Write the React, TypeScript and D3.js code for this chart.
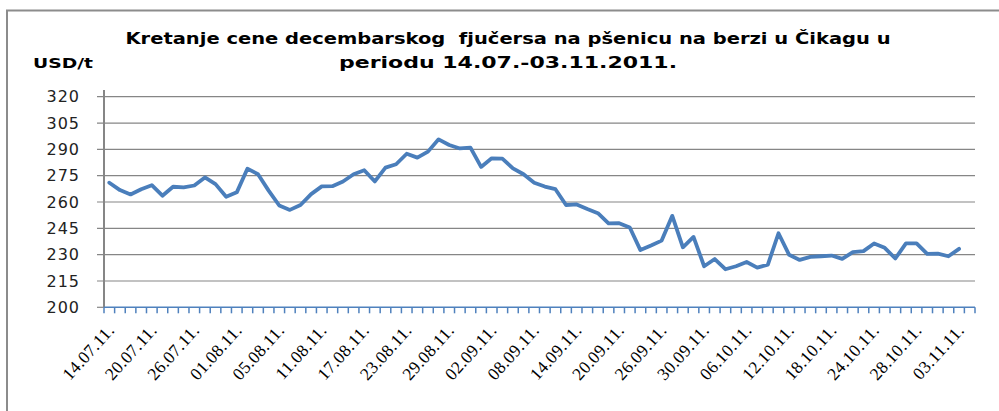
import { useEffect, useRef } from 'react';
import * as d3 from 'd3';

// Trading days 14.07.2011 - 04.11.2011 (category axis)
const dates = [
  "14.07.11.", "15.07.11.", "18.07.11.", "19.07.11.", "20.07.11.", "21.07.11.", "22.07.11.", "25.07.11.",
  "26.07.11.", "27.07.11.", "28.07.11.", "29.07.11.", "01.08.11.", "02.08.11.", "03.08.11.", "04.08.11.",
  "05.08.11.", "08.08.11.", "09.08.11.", "10.08.11.", "11.08.11.", "12.08.11.", "15.08.11.", "16.08.11.",
  "17.08.11.", "18.08.11.", "19.08.11.", "22.08.11.", "23.08.11.", "24.08.11.", "25.08.11.", "26.08.11.",
  "29.08.11.", "30.08.11.", "31.08.11.", "01.09.11.", "02.09.11.", "05.09.11.", "06.09.11.", "07.09.11.",
  "08.09.11.", "09.09.11.", "12.09.11.", "13.09.11.", "14.09.11.", "15.09.11.", "16.09.11.", "19.09.11.",
  "20.09.11.", "21.09.11.", "22.09.11.", "23.09.11.", "26.09.11.", "27.09.11.", "28.09.11.", "29.09.11.",
  "30.09.11.", "03.10.11.", "04.10.11.", "05.10.11.", "06.10.11.", "07.10.11.", "10.10.11.", "11.10.11.",
  "12.10.11.", "13.10.11.", "14.10.11.", "17.10.11.", "18.10.11.", "19.10.11.", "20.10.11.", "21.10.11.",
  "24.10.11.", "25.10.11.", "26.10.11.", "27.10.11.", "28.10.11.", "31.10.11.", "01.11.11.", "02.11.11.",
  "03.11.11.", "04.11.11."
];

// USD/t, one per trading day (last day has no value)
const prices = [
  271, 266.8, 264.3, 267.3, 269.6, 263.6, 268.7, 268.3, 269.4, 274,
  270.2, 263, 265.5, 279, 275.8, 266.5, 258, 255.5, 258.3, 264.5,
  268.9, 269, 271.7, 275.8, 278.1, 271.7, 279.6, 281.5, 287.5, 285.3,
  288.7, 295.7, 292.5, 290.5, 291, 280, 284.9, 284.7, 279.2, 275.8,
  271, 268.8, 267.3, 258.3, 258.6, 256, 253.6, 247.8, 247.9, 245.5,
  232.6, 235.2, 238, 252.1, 234.2, 240.1, 223.4, 227.5, 221.7, 223.4,
  225.8, 222.6, 224.3, 242.2, 229.9, 227, 228.7, 229.1, 229.5, 227.6,
  231.4, 232, 236.4, 233.9, 227.8, 236.4, 236.4, 230.4, 230.6, 229.1,
  233.3
];

const yTicks = [200, 215, 230, 245, 260, 275, 290, 305, 320];

const titleLines = [
  "Kretanje cene decembarskog  fjučersa na pšenicu na berzi u Čikagu u",
  "periodu 14.07.-03.11.2011."
];
const unitLabel = "USD/t";

function App() {
  const ref = useRef(null);

  const draw = () => {
    const root = d3.select(ref.current);
    root.selectAll("*").remove();

    const svg = root.append("svg")
      .attr("width", 999)
      .attr("height", 411)
      .style("position", "absolute")
      .style("left", 0)
      .style("top", 0)
      .style("background", "#fff");

    const left = 104, right = 975, top = 96.7, bottom = 307.3;

    const x = d3.scaleBand()
      .domain(dates)
      .range([left, right])
      .padding(0);

    const y = d3.scaleLinear()
      .domain([200, 320])
      .range([bottom, top]);

    // outer frame
    svg.append("rect")
      .attr("x", 7).attr("y", 10.5)
      .attr("width", 1100).attr("height", 600)
      .attr("fill", "none")
      .attr("stroke", "#8c8c8c")
      .attr("stroke-width", 2);

    // title
    svg.append("text")
      .attr("x", 508).attr("y", 44)
      .attr("text-anchor", "middle")
      .attr("font-family", "DejaVu Sans")
      .attr("font-weight", "bold")
      .attr("font-size", 15)
      .attr("textLength", 765)
      .attr("lengthAdjust", "spacingAndGlyphs")
      .style("white-space", "pre")
      .attr("fill", "#000")
      .text(titleLines[0]);
    svg.append("text")
      .attr("x", 508).attr("y", 68)
      .attr("text-anchor", "middle")
      .attr("font-family", "DejaVu Sans")
      .attr("font-weight", "bold")
      .attr("font-size", 15)
      .attr("textLength", 338)
      .attr("lengthAdjust", "spacingAndGlyphs")
      .attr("fill", "#000")
      .text(titleLines[1]);

    svg.append("text")
      .attr("x", 33).attr("y", 68)
      .attr("font-family", "DejaVu Sans")
      .attr("font-weight", "bold")
      .attr("font-size", 14)
      .attr("textLength", 60)
      .attr("lengthAdjust", "spacingAndGlyphs")
      .attr("fill", "#000")
      .text(unitLabel);

    // gridlines
    svg.append("g")
      .selectAll("line")
      .data(yTicks)
      .enter()
      .append("line")
        .attr("x1", left - 7)
        .attr("x2", d => d === 200 ? left : right)
        .attr("y1", d => y(d))
        .attr("y2", d => y(d))
        .attr("stroke", "#868686")
        .attr("stroke-width", 1.2);

    // y labels
    svg.append("g")
      .selectAll("text")
      .data(yTicks)
      .enter()
      .append("text")
        .attr("x", 80)
        .attr("y", d => y(d))
        .attr("dy", "0.36em")
        .attr("text-anchor", "end")
        .attr("font-family", "DejaVu Sans")
        .attr("font-size", 16)
        .attr("letter-spacing", 1)
        .attr("fill", "#222")
        .text(d => d);

    // y axis
    svg.append("line")
      .attr("x1", left).attr("x2", left)
      .attr("y1", 90).attr("y2", bottom)
      .attr("stroke", "#868686")
      .attr("stroke-width", 2);

    // x axis
    svg.append("line")
      .attr("x1", left).attr("x2", right)
      .attr("y1", bottom).attr("y2", bottom)
      .attr("stroke", "#4f81bd")
      .attr("stroke-width", 1.5);

    const bounds = dates.map(d => x(d)).concat([right]);
    svg.append("g")
      .selectAll("line")
      .data(bounds)
      .enter()
      .append("line")
        .attr("x1", d => d)
        .attr("x2", d => d)
        .attr("y1", bottom)
        .attr("y2", bottom + 6)
        .attr("stroke", "#4f81bd")
        .attr("stroke-width", 1.5);

    // x labels, every 4th trading day
    svg.append("g")
      .selectAll("text")
      .data(dates.filter((d, i) => i % 4 === 0))
      .enter()
      .append("text")
        .attr("transform", d => `translate(${x(d) + x.bandwidth() / 2 + 6},${331}) rotate(-48)`)
        .attr("text-anchor", "end")
        .attr("font-family", "Liberation Serif")
        .attr("font-size", 17.5)
        .attr("letter-spacing", 0.3)
        .attr("fill", "#000")
        .text(d => d);

    // price line
    const line = d3.line()
      .x((d, i) => x(dates[i]) + x.bandwidth() / 2)
      .y(d => y(d));

    svg.append("path")
      .datum(prices)
      .attr("d", line)
      .attr("fill", "none")
      .attr("stroke", "#4a7ebb")
      .attr("stroke-width", 3.8)
      .attr("stroke-linejoin", "round")
      .attr("stroke-linecap", "round");
  };

  useEffect(() => draw(), []);

  return (
    <div ref={ref}></div>
  );
}

export default App;
